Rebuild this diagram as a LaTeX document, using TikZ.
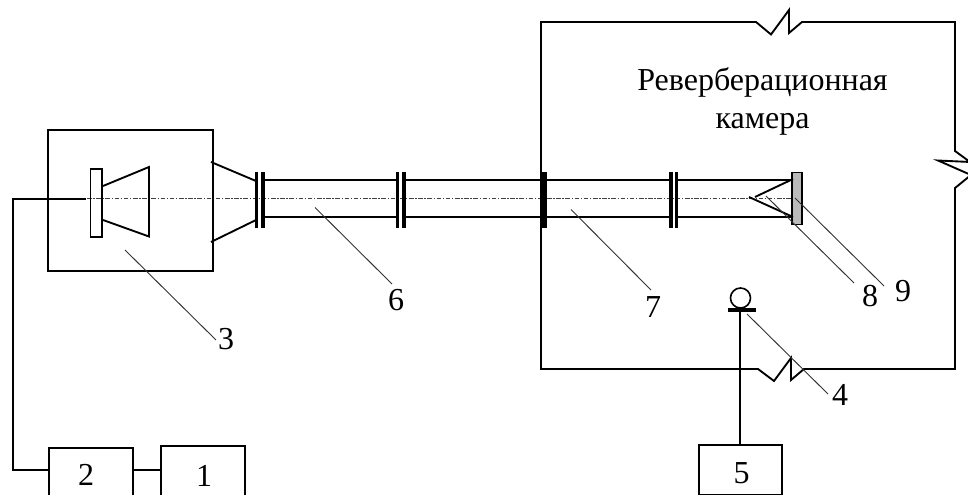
\documentclass[tikz,border=0pt]{standalone}
\usepackage{fontspec}
\setmainfont{Liberation Serif}
\tikzset{
  px/.style={x=0.75pt,y=-0.75pt},
  wire/.style={line width=1.5pt,black,line join=miter},
  thinwire/.style={line width=1.4pt,black,line join=miter},
  flange/.style={line width=2.3pt,black},
  leader/.style={line width=0.7pt,black!80},
  axis/.style={line width=0.8pt,black!75,dash pattern=on 3.5pt off 1.2pt on 1pt off 1.2pt},
  numlabel/.style={font=\fontsize{24}{28}\selectfont,inner sep=0pt},
  blockbox/.style={draw,line width=1.4pt,inner sep=0pt,outer sep=0pt}
}
\begin{document}
\begin{tikzpicture}[px]
\useasboundingbox (0,0) rectangle (968,495);
\clip (0,0) rectangle (968,495);
% named points
\coordinate (wireA) at (86,199.5);
\coordinate (wireB) at (13,199.5);
\coordinate (axA) at (87,198.7);
\coordinate (axB) at (802,198.7);
\coordinate (roomTL) at (541,22);
\coordinate (roomBL) at (541,369);
\coordinate (roomTR) at (955,22);
\coordinate (roomBR) at (955,369);
\coordinate (mic) at (740.5,298);
\coordinate (micBar) at (739.5,310);
% axis
\draw[axis] (axA) -- (axB);
% source box
\node[blockbox,minimum width=165*0.75pt,minimum height=141*0.75pt,anchor=north west] (src) at (48,130) {};
\node[blockbox,minimum width=11.5*0.75pt,minimum height=68*0.75pt,anchor=north west] (drv) at (90.5,169) {};
\draw[thinwire] (103,186) -- (149,167) -- (149,236.5) -- (103,220);
% big horn
\draw[thinwire] (211,162) -- (256,181);
\draw[thinwire] (211,242) -- (256,220);
% pipe
\foreach \a/\b in {263/398,404/541,545/672,676/792}{
  \draw[wire] (\a,180.5) -- (\b,180.5);
  \draw[wire] (\a,217.5) -- (\b,217.5);
}
% flanges
\foreach \x in {256.5,263,397.5,404,545,671,676.5}{
  \draw[flange] (\x,172) -- (\x,228);
}
\draw[line width=3pt] (541.5,172) -- (541.5,228);
% end cap
\node[blockbox,fill=black!27,minimum width=10*0.75pt,minimum height=52*0.75pt,anchor=north west] (cap) at (792,172.5) {};
\draw[thinwire] (793,179) -- (755,197);
\draw[thinwire] (749,197) -- (793,217);
% room
\draw[thinwire] (roomBL) -- (roomTL) -- (756,22) -- (771,34.5) -- (789,10) -- (789,33) -- (802,22) -- (roomTR)
  -- (955,151) -- (970,162) -- (938,160.5) -- (971,175) -- (955,188) -- (roomBR)
  -- (804,369) -- (791,380) -- (791,358) -- (774,381) -- (758,369) -- cycle;
% blocks
\node[blockbox,minimum width=84*0.75pt,minimum height=70*0.75pt,anchor=north west] (b2) at (49,448) {};
\node[blockbox,minimum width=84*0.75pt,minimum height=74*0.75pt,anchor=north west] (b1) at (161,446) {};
\node[blockbox,minimum width=83*0.75pt,minimum height=49.5*0.75pt,anchor=north west] (b5) at (699,445) {};
\node[numlabel] (t2) at (86,474.5) {2};
\node[numlabel] (t1) at (204,476) {1};
\node[numlabel] (t5) at (741.5,473.5) {5};
% wires
\draw[wire] (wireA) -- (wireB) |- (b2.west |- 0,470);
\draw[wire] (b2.east |- 0,470) -- (b1.west |- 0,470);
% microphone
\node[draw,circle,line width=1.2pt,minimum size=20*0.75pt,inner sep=0pt] (micC) at (mic) {};
\draw[flange] (727.5,310) -- (755.5,310);
\draw[wire] (micBar) -- (micBar |- b5.north);
% labels
\node[numlabel] (n3) at (226,339) {3};
\node[numlabel] (n4) at (840,395) {4};
\node[numlabel] (n6) at (396,300) {6};
\node[numlabel] (n7) at (653,307) {7};
\node[numlabel] (n8) at (870,296) {8};
\node[numlabel] (n9) at (903,291) {9};
\node[font=\fontsize{24}{28.5}\selectfont,align=center,inner sep=0pt] (title) at (762.5,101.6) {Реверберационная\\камера};
% leaders
\coordinate (l3) at (125,250);
\coordinate (l3e) at (216,340);
\coordinate (l4) at (747,314);
\coordinate (l4e) at (828,394);
\coordinate (l6) at (315,207.5);
\coordinate (l6e) at (392,284);
\coordinate (l7) at (571,209.5);
\coordinate (l7e) at (651,290);
\coordinate (l8) at (766,196);
\coordinate (l8e) at (854,283);
\coordinate (l9) at (795,198);
\coordinate (l9e) at (884,286);
\draw[leader] (l3) -- (l3e);
\draw[leader] (l4) -- (l4e);
\draw[leader] (l6) -- (l6e);
\draw[leader] (l7) -- (l7e);
\draw[leader] (l8) -- (l8e);
\draw[leader] (l9) -- (l9e);
\end{tikzpicture}
\end{document}
